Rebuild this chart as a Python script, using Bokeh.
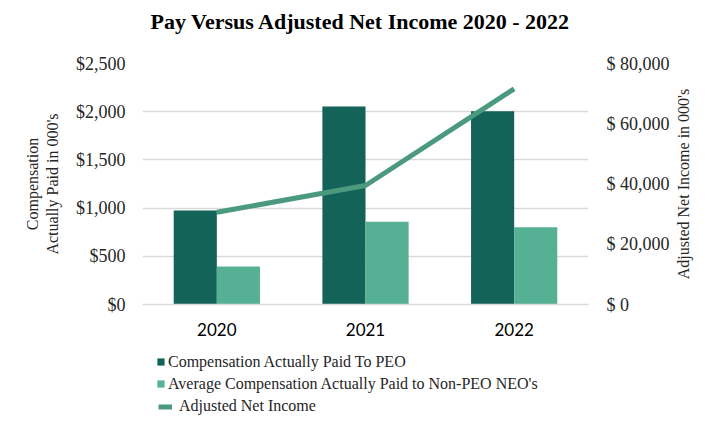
import math
from bokeh.plotting import figure
from bokeh.layouts import column, row
from bokeh.models import (Range1d, LinearAxis, FactorRange, Legend, LegendItem, Title,
                          CustomJSTickFormatter, NumeralTickFormatter, FixedTicker, ColumnDataSource)
from bokeh.transform import dodge
from bokeh.embed import file_html
from bokeh.resources import INLINE

years = ["2020", "2021", "2022"]
peo_cap = [975, 2054, 2005]
neo_cap = [394, 858, 802]
net_income = [30600, 39500, 71600]
left_ticks = [0, 500, 1000, 1500, 2000, 2500]
right_ticks = [0, 20000, 40000, 60000, 80000]
labels = ["Compensation Actually Paid To PEO",
          "Average Compensation Actually Paid to Non-PEO NEO's",
          "Adjusted Net Income"]
title_text = "Pay Versus Adjusted Net Income 2020 - 2022"
right_label = "Adjusted Net Income in 000's"

SERIF = "Liberation Serif"
DARK = "#136358"
LIGHT = "#56B194"
LINE = "#4B9A7D"
TXT = "#262626"

src = ColumnDataSource(dict(year=years, peo=peo_cap, neo=neo_cap, ni=net_income))

p = figure(width=672, height=345, x_range=FactorRange(*years, range_padding=0),
           y_range=Range1d(0, 2500), output_backend="svg", toolbar_location=None,
           min_border_left=142, min_border_right=84, min_border_top=63, min_border_bottom=41,
           title=None)
p.outline_line_color = None

# spacer first (nearest the frame), then the real title
p.add_layout(Title(text=" ", text_font_size="1px", standoff=27), "above")
p.add_layout(Title(text=title_text, align="left", offset=8, standoff=0, text_font=SERIF,
                   text_font_style="bold", text_font_size="22px", text_color="#000000"), "above")

p.extra_y_ranges = {"ni": Range1d(0, 80000)}

r1 = p.vbar(x=dodge("year", -0.145, range=p.x_range), top="peo", width=0.29, source=src,
            fill_color=DARK, line_color=None)
r2 = p.vbar(x=dodge("year", 0.145, range=p.x_range), top="neo", width=0.29, source=src,
            fill_color=LIGHT, line_color=None)
r3 = p.line(x="year", y="ni", source=src, y_range_name="ni", line_color=LINE, line_width=5)

# axes
p.xaxis.axis_line_color = "#d9d9d9"
p.xaxis.axis_line_width = 1.5
p.xaxis.major_tick_line_color = None
p.xaxis.major_tick_out = 0
p.xaxis.minor_tick_line_color = None
p.xaxis.major_label_text_font = "Lato"
p.xaxis.major_label_text_font_size = "17px"
p.xaxis.major_label_text_color = "#000000"
p.xaxis.major_label_standoff = 18

ly = p.yaxis[0]
ly.ticker = FixedTicker(ticks=left_ticks)
ly.formatter = NumeralTickFormatter(format="$0,0")
ly.axis_line_color = None
ly.major_tick_line_color = None
ly.major_tick_out = 0
ly.minor_tick_line_color = None
ly.major_label_text_font = SERIF
ly.major_label_text_font_size = "18px"
ly.major_label_text_color = TXT
ly.major_label_standoff = 17
ly.axis_label = "Compensation\nActually Paid in 000's"
ly.axis_label_text_font = SERIF
ly.axis_label_text_font_size = "16px"
ly.axis_label_text_font_style = "normal"
ly.axis_label_text_color = TXT
ly.axis_label_standoff = 12

ry = LinearAxis(y_range_name="ni", ticker=FixedTicker(ticks=right_ticks),
                formatter=CustomJSTickFormatter(code="return '$ ' + tick.toLocaleString('en-US');"))
ry.axis_line_color = None
ry.major_tick_line_color = None
ry.major_tick_out = 0
ry.minor_tick_line_color = None
ry.major_label_text_font = SERIF
ry.major_label_text_font_size = "18px"
ry.major_label_text_color = TXT
ry.major_label_standoff = 18
p.add_layout(ry, "right")

p.xgrid.grid_line_color = None
p.ygrid.grid_line_color = "#d9d9d9"
p.ygrid.grid_line_width = 1.5
p.ygrid.ticker = FixedTicker(ticks=left_ticks)

# right-hand axis title (reads bottom-to-top), in a narrow companion figure
r = figure(width=48, height=345, x_range=Range1d(0, 1), y_range=Range1d(0, 1),
           output_backend="svg", toolbar_location=None, title=right_label, title_location="left",
           min_border_left=19, min_border_right=0, min_border_top=63, min_border_bottom=41)
r.title.align = "center"
r.title.standoff = 0
r.title.text_font = SERIF
r.title.text_font_style = "normal"
r.title.text_font_size = "16px"
r.title.text_color = TXT
r.axis.visible = False
r.grid.visible = False
r.outline_line_color = None

# legend panel (separate figure so the legend is not clipped by the chart frame)
q = figure(width=720, height=87, x_range=Range1d(0, 1), y_range=Range1d(0, 1),
           output_backend="svg", toolbar_location=None,
           min_border_left=142, min_border_right=132, min_border_top=0, min_border_bottom=0)
q.axis.visible = False
q.grid.visible = False
q.outline_line_color = None
nan = float("nan")
dummy = ColumnDataSource(dict(x=[nan], y=[nan], top=[nan]))
g1 = q.vbar(x="x", top="top", width=0.1, source=dummy, fill_color=DARK, line_color=None)
g2 = q.vbar(x="x", top="top", width=0.1, source=dummy, fill_color=LIGHT, line_color=None)
g3 = q.line(x="x", y="y", source=dummy, line_color=LINE, line_width=5)

common = dict(padding=0, margin=0, background_fill_alpha=0, border_line_color=None,
              label_text_font=SERIF, label_text_font_size="16px", label_text_color=TXT)
leg1 = Legend(items=[LegendItem(label=labels[0], renderers=[g1]),
                     LegendItem(label=labels[1], renderers=[g2])],
              location=(14, 39.5), glyph_width=9, glyph_height=9, label_height=9, spacing=4,
              label_standoff=3, **common)
leg2 = Legend(items=[LegendItem(label=labels[2], renderers=[g3])],
              location=(16, 17), glyph_width=14, glyph_height=9, label_height=9,
              label_standoff=7, **common)
q.add_layout(leg1, "center")
q.add_layout(leg2, "center")

layout = column(row(p, r, spacing=0), q, spacing=0)
open("out.html", "w").write(file_html(layout, INLINE))
